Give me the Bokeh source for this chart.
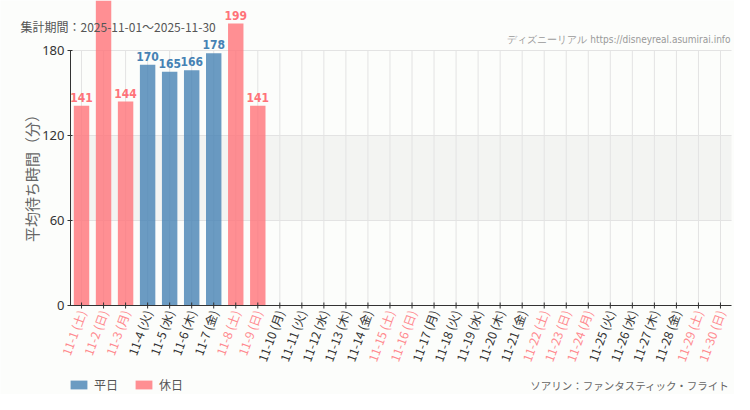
import math
from bokeh.plotting import figure
from bokeh.models import (ColumnDataSource, Range1d, Label, Legend, LegendItem, FixedTicker)
from bokeh.core.properties import value
from bokeh.embed import file_html
from bokeh.resources import INLINE

# ---- data ----
dates = ["11-1", "11-2", "11-3", "11-4", "11-5", "11-6", "11-7", "11-8", "11-9", "11-10",
         "11-11", "11-12", "11-13", "11-14", "11-15", "11-16", "11-17", "11-18", "11-19", "11-20",
         "11-21", "11-22", "11-23", "11-24", "11-25", "11-26", "11-27", "11-28", "11-29", "11-30"]
weekdays = ["土", "日", "月", "火", "水", "木", "金", "土", "日", "月",
            "火", "水", "木", "金", "土", "日", "月", "火", "水", "木",
            "金", "土", "日", "月", "火", "水", "木", "金", "土", "日"]
holiday = [1, 1, 1, 0, 0, 0, 0, 1, 1, 0,
           0, 0, 0, 0, 1, 1, 0, 0, 0, 0,
           0, 1, 1, 1, 0, 0, 0, 0, 1, 1]
wait = [141, 230, 144, 170, 165, 166, 178, 199, 141, None,
        None, None, None, None, None, None, None, None, None, None,
        None, None, None, None, None, None, None, None, None, None]
y_ticks = [0, 60, 120, 180]
band = [60, 120]

title_text = "集計期間：2025-11-01～2025-11-30"
site_text = "ディズニーリアル https://disneyreal.asumirai.info"
ride_text = "ソアリン：ファンタスティック・フライト"
y_label = "平均待ち時間（分）"
legend_names = ["平日", "休日"]

# ---- styles ----
BLUE = "#4682b4"
PINK = "#ff7379"
JP = "Noto Sans CJK JP"
NARROW = "DejaVu Sans Condensed, Roboto, sans-serif"
W, H = 734, 394
LEFT_PX, RIGHT_PX, ZERO_PX, TOP_PX = 70, 731, 305, 50   # plot area in pixels
n = len(dates)
slot = (RIGHT_PX - LEFT_PX) / n
ppu = (ZERO_PX - TOP_PX) / y_ticks[-1]

labels = [f"{d} ({w})" for d, w in zip(dates, weekdays)]
xs = [i + 0.5 for i in range(n)]          # category centres (slot units)

wk = dict(x=[], top=[], txt=[])
hol = dict(x=[], top=[], txt=[])
y_top = ZERO_PX / ppu
for x, v, h in zip(xs, wait, holiday):
    if v is None:
        continue
    d = hol if h else wk
    d["x"].append(x)
    d["top"].append(v)
    d["txt"].append(str(v) if v < y_top - 12 else "")
wk_src = ColumnDataSource(wk)
hol_src = ColumnDataSource(hol)

p = figure(width=W, height=H,
           x_range=Range1d(-LEFT_PX / slot, (W - LEFT_PX) / slot),
           y_range=Range1d(-(H - ZERO_PX) / ppu, y_top),
           x_axis_location=None,
           output_backend="svg", toolbar_location=None,
           min_border_left=0, min_border_right=0, min_border_top=0, min_border_bottom=0)
p.background_fill_color = "#fcfdfb"
p.border_fill_color = "#fcfdfb"
p.outline_line_color = None
p.grid.visible = False

# band 60-120 and grid lines limited to the plot area
p.quad(left=[0], right=[n], bottom=[band[0]], top=[band[1]], fill_color="#f3f4f2", line_color=None)
p.segment(x0=[0] * 3, x1=[n] * 3, y0=y_ticks[1:], y1=y_ticks[1:], line_color="#e3e3e3", line_width=1)
p.segment(x0=xs, x1=xs, y0=[y_ticks[0]] * n, y1=[y_ticks[-1]] * n, line_color="#e3e3e3", line_width=1)

r_wk = p.vbar(x="x", top="top", width=0.7, source=wk_src, fill_color=BLUE, fill_alpha=0.8, line_color=None)
r_hol = p.vbar(x="x", top="top", width=0.7, source=hol_src, fill_color=PINK, fill_alpha=0.8, line_color=None)

for src, col in ((wk_src, BLUE), (hol_src, PINK)):
    p.text(x="x", y="top", text="txt", source=src, text_align="center",
           text_baseline="bottom", y_offset=-4, text_color=col,
           text_font=value(NARROW), text_font_style="bold", text_font_size="12px")

# y axis at x = 0
p.yaxis.fixed_location = 0
p.yaxis.ticker = FixedTicker(ticks=y_ticks)
p.yaxis.bounds = (y_ticks[0], y_ticks[-1])
p.yaxis.minor_tick_line_color = None
p.yaxis.major_tick_in = 2
p.yaxis.major_tick_out = 3
p.yaxis.axis_line_color = "#333333"
p.yaxis.major_tick_line_color = "#333333"
p.yaxis.major_label_text_font = "Noto Sans"
p.yaxis.major_label_text_font_size = "13px"
p.yaxis.major_label_text_color = "#333333"
p.yaxis.major_label_standoff = 3

# y axis title
p.add_layout(Label(x=31, y=H - 174, x_units="screen", y_units="screen", text=y_label,
                   angle=math.pi / 2, text_align="center", text_baseline="middle",
                   text_font=JP, text_font_size="15px", text_color="#666666"))

# x axis line and ticks
p.segment(x0=[0], x1=[n], y0=[0], y1=[0], line_color="#333333", line_width=1)
p.scatter(x=xs, y=[0] * n, marker="dash", angle=math.pi / 2, size=6, line_color="#333333", line_width=1)

# rotated category labels, coloured by day type
tick_src = ColumnDataSource(dict(x=xs, y=[0] * n, text=labels,
                                 color=["#ff8a8f" if h else "#333333" for h in holiday]))
p.text(x="x", y="y", text="text", source=tick_src, text_color="color",
       angle=1.22, angle_units="rad", text_align="right", text_baseline="middle",
       y_offset=5, x_offset=0, text_font=value(JP), text_font_size="12px")

# texts (screen units from the bottom-left corner)
p.add_layout(Label(x=20, y=H - 26, x_units="screen", y_units="screen", text=title_text,
                   text_baseline="middle", text_align="left", text_font=JP,
                   text_font_size="12px", text_color="#555555"))
p.add_layout(Label(x=730, y=H - 39, x_units="screen", y_units="screen", text=site_text,
                   text_baseline="middle", text_align="right", text_font=NARROW,
                   text_font_size="10px", text_color="#999999"))
p.add_layout(Label(x=729, y=H - 385, x_units="screen", y_units="screen", text=ride_text,
                   text_baseline="middle", text_align="right", text_font=JP,
                   text_font_size="10.5px", text_color="#666666"))

legend = Legend(items=[LegendItem(label=legend_names[0], renderers=[r_wk]),
                       LegendItem(label=legend_names[1], renderers=[r_hol])],
                orientation="horizontal", location=(68, 1), padding=0, margin=0,
                spacing=15, label_standoff=5, glyph_width=21, glyph_height=11, label_height=12,
                border_line_alpha=0, background_fill_alpha=0,
                label_text_font=JP, label_text_font_size="12px", label_text_color="#555555")
p.add_layout(legend)

open("out.html", "w").write(file_html(p, INLINE))
